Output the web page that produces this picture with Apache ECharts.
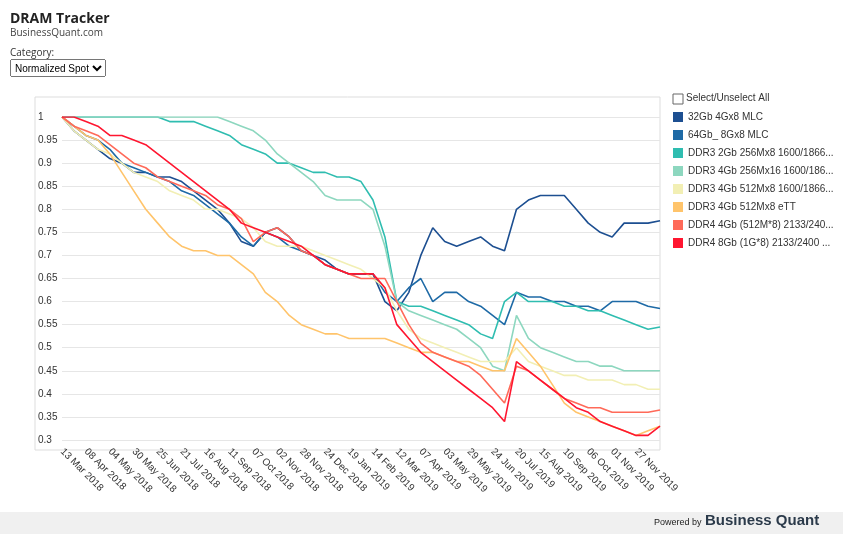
<!DOCTYPE html>
<html><head><meta charset="utf-8">
<script src="https://cdn.jsdelivr.net/npm/echarts@6/dist/echarts.min.js"></script>
<style>
body{margin:0;width:843px;height:534px;overflow:hidden;font-family:"Open Sans",Arial,sans-serif;background:#fff;position:relative}
#c{position:absolute;left:0;top:0;width:843px;height:534px}
#t{position:absolute;left:10px;top:8px;font-size:14px;font-weight:bold;color:#222;z-index:2}
#s{position:absolute;left:10px;top:25px;font-size:10px;color:#444;z-index:2}
#l{position:absolute;left:10px;top:45px;font-size:10px;color:#333;z-index:2}
#sel{position:absolute;left:10px;top:59px;width:96px;height:18px;font-size:10px;z-index:2}
</style></head><body>
<div id="t">DRAM Tracker</div><div id="s">BusinessQuant.com</div><div id="l">Category:</div>
<select id="sel"><option>Normalized Spot Price</option></select>
<div id="c"></div>
<script>
const names=["32Gb 4Gx8 MLC","64Gb_ 8Gx8 MLC","DDR3 2Gb 256Mx8 1600/1866...","DDR3 4Gb 256Mx16 1600/186...","DDR3 4Gb 512Mx8 1600/1866...","DDR3 4Gb 512Mx8 eTT","DDR4 4Gb (512M*8) 2133/240...","DDR4 8Gb (1G*8) 2133/2400 ..."];
const colors=["#1d4f91","#1e6aa6","#2fbdb0","#8dd7bf","#f2efb4","#ffc46b","#ff6a59","#ff1630"];
const s32=[1,.97,.95,.93,.91,.9,.88,.88,.87,.87,.86,.84,.82,.8,.77,.73,.72,.75,.76,.74,.71,.7,.69,.67,.66,.66,.66,.6,.58,.62,.7,.76,.73,.72,.73,.74,.72,.71,.8,.82,.83,.83,.83,.8,.77,.75,.74,.77,.77,.77,.775];
const s64=[1,.98,.96,.95,.93,.9,.89,.88,.87,.86,.84,.83,.81,.79,.77,.74,.72,.75,.74,.72,.71,.7,.68,.67,.66,.66,.66,.62,.6,.63,.65,.6,.62,.62,.6,.59,.57,.55,.62,.61,.61,.6,.6,.59,.59,.58,.6,.6,.6,.59,.585];
const s2g=[1,1,1,1,1,1,1,1,1,.99,.99,.99,.98,.97,.96,.94,.93,.92,.9,.9,.89,.88,.88,.87,.87,.86,.82,.74,.6,.59,.59,.58,.57,.56,.55,.53,.52,.6,.62,.6,.6,.6,.59,.59,.58,.58,.57,.56,.55,.54,.545];
const s256=[1,1,1,1,1,1,1,1,1,1,1,1,1,1,.99,.98,.97,.95,.92,.9,.88,.86,.83,.82,.82,.82,.8,.72,.6,.58,.57,.56,.55,.54,.52,.5,.46,.45,.57,.52,.5,.49,.48,.47,.47,.46,.46,.45,.45,.45,.45];
const s512=[1,.97,.95,.93,.92,.9,.88,.87,.86,.84,.83,.82,.8,.8,.79,.78,.76,.73,.72,.72,.72,.71,.7,.69,.68,.67,.65,.63,.58,.54,.52,.51,.5,.49,.48,.47,.47,.47,.5,.47,.46,.45,.44,.44,.43,.43,.43,.42,.42,.41,.41];
const sett=[1,.98,.96,.95,.92,.88,.84,.8,.77,.74,.72,.71,.71,.7,.7,.68,.66,.62,.6,.57,.55,.54,.53,.53,.52,.52,.52,.52,.51,.5,.49,.49,.48,.47,.47,.46,.45,.45,.52,.49,.46,.42,.38,.36,.35,.34,.33,.32,.31,.32,.33];
const s4g=[1,.98,.97,.96,.94,.92,.9,.89,.87,.86,.85,.84,.83,.81,.8,.78,.73,.75,.76,.74,.71,.7,.68,.67,.66,.65,.65,.65,.6,.55,.51,.49,.48,.47,.46,.44,.41,.38,.46,.45,.43,.41,.39,.38,.37,.37,.36,.36,.36,.36,.365];
const s8g=[1,1,.99,.98,.96,.96,.95,.94,.92,.9,.88,.86,.84,.82,.8,.77,.76,.75,.74,.73,.72,.7,.68,.67,.66,.66,.66,.63,.55,.52,.49,.47,.45,.43,.41,.39,.37,.34,.47,.45,.43,.41,.39,.37,.36,.34,.33,.32,.31,.31,.33];
const values=[s32,s64,s2g,s256,s512,sett,s4g,s8g];
const mon=["Jan","Feb","Mar","Apr","May","Jun","Jul","Aug","Sep","Oct","Nov","Dec"];
const cats=[];
for(let k=0;k<s32.length;k++){const d=new Date(Date.UTC(2018,2,13+13*k));cats.push(String(d.getUTCDate()).padStart(2,'0')+" "+mon[d.getUTCMonth()]+" "+d.getUTCFullYear());}
const ch=echarts.init(document.getElementById('c'));
ch.setOption({
animation:false,
grid:{left:62,right:183,top:117,bottom:94},
xAxis:{type:'category',data:cats,boundaryGap:false,axisLine:{show:false},axisTick:{show:false},
 axisLabel:{interval:(i)=>i%2===0&&i<=48,rotate:-45,fontSize:10,color:'#333',margin:10}},
yAxis:{type:'value',min:0.3,max:1,interval:0.05,axisLine:{show:false},axisTick:{show:false},
 axisLabel:{fontSize:10,color:'#333',align:'left',margin:24,formatter:v=>String(+v.toFixed(2))},
 splitLine:{lineStyle:{color:'#e6e6e6'}}},
legend:{orient:'vertical',left:673,top:112,padding:0,itemGap:8,itemWidth:10,itemHeight:10,icon:'rect',
 textStyle:{fontSize:10,color:'#333'},data:names},
series:names.map((n,i)=>({name:n,type:'line',data:values[i],showSymbol:false,lineStyle:{width:1.6,color:colors[i]},itemStyle:{color:colors[i]},z:i})),
graphic:[
 {type:'rect',shape:{x:35,y:97,width:625,height:353},style:{fill:'none',stroke:'#ddd'}},
 {type:'rect',shape:{x:673,y:94,width:10,height:10},style:{fill:'#fff',stroke:'#666'}},
 {type:'text',x:686,y:93,style:{text:'Select/Unselect All',fontSize:10,fill:'#333'}},
 {type:'rect',shape:{x:0,y:512,width:843,height:22},style:{fill:'#f0f0f0'}},
 {type:'text',x:654,y:518,style:{text:'Powered by',fontSize:9,fill:'#222'}},
 {type:'text',x:705,y:513,style:{text:'Business Quant',fontSize:15,fontWeight:'bold',fill:'#2b3a4a'}}
]});
</script></body></html>
